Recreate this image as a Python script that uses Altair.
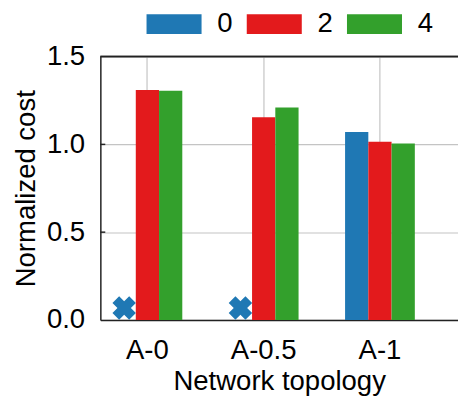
import altair as alt
import pandas as pd

topologies = ["A-0", "A-0", "A-0", "A-0.5", "A-0.5", "A-0.5", "A-1", "A-1", "A-1"]
series = ["0", "2", "4", "0", "2", "4", "0", "2", "4"]
costs = [None, 1.31, 1.305, None, 1.155, 1.21, 1.07, 1.015, 1.005]

missing_topo = ["A-0", "A-0.5"]
missing_series = ["0", "0"]
missing_y = [0.068, 0.068]

tick_vals = [0.5, 1.0]

series_order = ["0", "2", "4"]
colors = ["#1f78b4", "#e31a1c", "#33a02c"]
topo_order = ["A-0", "A-0.5", "A-1"]

FONT = "Liberation Sans"
FS = 28
W, H = 364, 268

df = pd.DataFrame({"topology": topologies, "series": series, "cost": costs})
mdf = pd.DataFrame({"topology": missing_topo, "series": missing_series, "y": missing_y})
tdf = pd.DataFrame({"v": tick_vals})

xenc = alt.X("topology:N", sort=topo_order,
             scale=alt.Scale(paddingInner=0.4, paddingOuter=0.238, align=0.22),
             axis=alt.Axis(title="Network topology", labelAngle=0, grid=True,
                           ticks=False, labelPadding=17, titlePadding=4,
                           bandPosition=0.5))
xoff = alt.XOffset("series:N", sort=series_order,
                   scale=alt.Scale(paddingInner=0, paddingOuter=0))
color = alt.Color("series:N", sort=series_order,
                  scale=alt.Scale(domain=series_order, range=colors),
                  legend=alt.Legend(title=None, orient="none", direction="horizontal",
                                    legendX=47, legendY=-61,
                                    symbolType="M-1,-0.357L1,-0.357L1,0.357L-1,0.357Z",
                                    symbolSize=3136, symbolStrokeWidth=0,
                                    labelFontSize=FS, labelFont=FONT,
                                    labelOffset=16, columnPadding=14))

bars = alt.Chart(df).mark_bar().encode(
    x=xenc,
    xOffset=xoff,
    y=alt.Y("cost:Q", scale=alt.Scale(domain=[0, 1.5], nice=False),
            axis=alt.Axis(title="Normalized cost", values=[0, 0.5, 1.0, 1.5],
                          format=".1f", ticks=False, labelPadding=16,
                          titlePadding=6)),
    color=color,
)

marks = alt.Chart(mdf).mark_point(shape="cross", angle=45, filled=True,
                                  size=580, opacity=1).encode(
    x=alt.X("topology:N", sort=topo_order),
    xOffset=alt.XOffset("series:N", sort=series_order),
    y=alt.Y("y:Q"),
    color=alt.Color("series:N", sort=series_order),
)

ticks = alt.Chart(tdf).mark_rule(color="#222", strokeWidth=1.5).encode(
    y=alt.Y("v:Q"), x=alt.value(0), x2=alt.value(5)
)

topline = alt.Chart(tdf).mark_rule(color="#222", strokeWidth=1.5).encode(
    y=alt.value(0), x=alt.value(0), x2=alt.value(W + 10)
)

chart = alt.layer(bars, marks, ticks, topline).properties(
    width=W, height=H,
    autosize=alt.AutoSizeParams(type="none"),
    padding={"left": 94, "top": 46, "right": 0, "bottom": 77},
).configure_view(stroke=None).configure_axis(
    labelFont=FONT, titleFont=FONT, labelFontSize=FS, titleFontSize=FS,
    labelColor="black", titleColor="black", titleFontWeight="normal",
    domainColor="#222", domainWidth=1.5,
    gridColor="#c4c4c4", gridWidth=1.2,
)

chart.save("out.html", embed_options={"renderer": "svg", "actions": False})
